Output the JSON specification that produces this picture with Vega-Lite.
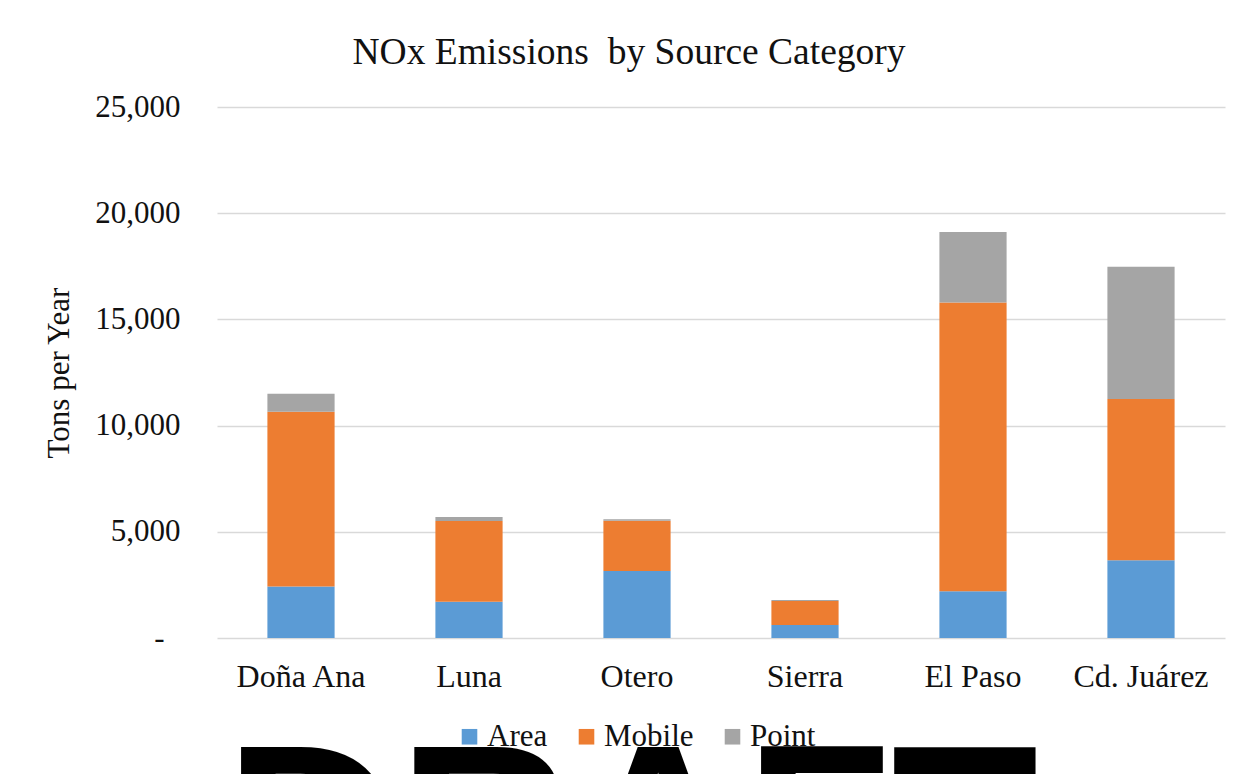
{
  "$schema": "https://vega.github.io/schema/vega-lite/v6.json",
  "width": 1008,
  "height": 531,
  "autosize": {"type": "none"},
  "padding": {"left": 217, "top": 107, "right": 25, "bottom": 136},
  "background": "white",
  "title": {
    "text": "NOx Emissions\u00a0 by Source Category",
    "font": "Liberation Serif",
    "fontSize": 37.5,
    "fontWeight": "normal",
    "color": "#111111",
    "anchor": "middle",
    "frame": "group",
    "baseline": "alphabetic",
    "dx": -92,
    "dy": 10,
    "offset": 0
  },
  "data": {
    "values": [
      {"county": "Doña Ana", "category": "Area", "tons": 2430},
      {"county": "Doña Ana", "category": "Mobile", "tons": 8220},
      {"county": "Doña Ana", "category": "Point", "tons": 850},
      {"county": "Luna", "category": "Area", "tons": 1710},
      {"county": "Luna", "category": "Mobile", "tons": 3800},
      {"county": "Luna", "category": "Point", "tons": 190},
      {"county": "Otero", "category": "Area", "tons": 3150},
      {"county": "Otero", "category": "Mobile", "tons": 2370},
      {"county": "Otero", "category": "Point", "tons": 65},
      {"county": "Sierra", "category": "Area", "tons": 610},
      {"county": "Sierra", "category": "Mobile", "tons": 1130},
      {"county": "Sierra", "category": "Point", "tons": 50},
      {"county": "El Paso", "category": "Area", "tons": 2200},
      {"county": "El Paso", "category": "Mobile", "tons": 13590},
      {"county": "El Paso", "category": "Point", "tons": 3330},
      {"county": "Cd. Juárez", "category": "Area", "tons": 3660},
      {"county": "Cd. Juárez", "category": "Mobile", "tons": 7590},
      {"county": "Cd. Juárez", "category": "Point", "tons": 6230}
    ]
  },
  "mark": {"type": "bar"},
  "encoding": {
    "x": {
      "field": "county",
      "type": "nominal",
      "sort": ["Doña Ana", "Luna", "Otero", "Sierra", "El Paso", "Cd. Juárez"],
      "scale": {"paddingInner": 0.6, "paddingOuter": 0.3},
      "axis": {
        "labelAngle": 0,
        "labelFont": "Liberation Serif",
        "labelFontSize": 32,
        "labelColor": "#111111",
        "labelBaseline": "top",
        "labelPadding": 23,
        "ticks": false,
        "tickSize": 0,
        "domain": false,
        "grid": false,
        "title": "DRAFT",
        "titleFont": "Liberation Sans",
        "titleFontWeight": "bold",
        "titleFontSize": 240,
        "titleColor": "#000000",
        "titleAlign": "center",
        "titleBaseline": "alphabetic",
        "titleX": 414,
        "titleY": 273
      }
    },
    "y": {
      "field": "tons",
      "type": "quantitative",
      "stack": "zero",
      "scale": {"domain": [0, 25000], "nice": false},
      "axis": {
        "values": [0, 5000, 10000, 15000, 20000, 25000],
        "labelExpr": "datum.value == 0 ? '-' : format(datum.value, ',')",
        "labelFont": "Liberation Serif",
        "labelFontSize": 31,
        "labelColor": "#111111",
        "labelPadding": {"condition": {"test": "datum.value == 0", "value": 53}, "value": 37},
        "ticks": false,
        "tickSize": 0,
        "domain": false,
        "grid": true,
        "gridColor": "#D9D9D9",
        "gridWidth": 1.5,
        "title": "Tons per Year",
        "titleFont": "Liberation Serif",
        "titleFontSize": 31,
        "titleFontWeight": "normal",
        "titleColor": "#111111",
        "titleAngle": 270,
        "titleAlign": "center",
        "titleBaseline": "alphabetic",
        "titleX": -149,
        "titleY": 265.5
      }
    },
    "color": {
      "field": "category",
      "type": "nominal",
      "scale": {"domain": ["Area", "Mobile", "Point"], "range": ["#5B9BD5", "#ED7D31", "#A5A5A5"]},
      "legend": {
        "orient": "none",
        "legendX": 237,
        "legendY": 614,
        "direction": "horizontal",
        "title": null,
        "symbolType": "square",
        "symbolSize": 243,
        "symbolStrokeWidth": 0,
        "labelFont": "Liberation Serif",
        "labelFontSize": 31,
        "labelColor": "#111111",
        "labelOffset": 2,
        "columnPadding": 23,
        "padding": 0
      }
    },
    "order": {"field": "category", "type": "ordinal", "sort": "ascending"}
  },
  "config": {
    "font": "Liberation Serif",
    "view": {"stroke": null},
    "legend": {"labelFont": "Liberation Serif", "labelFontSize": 31}
  }
}
